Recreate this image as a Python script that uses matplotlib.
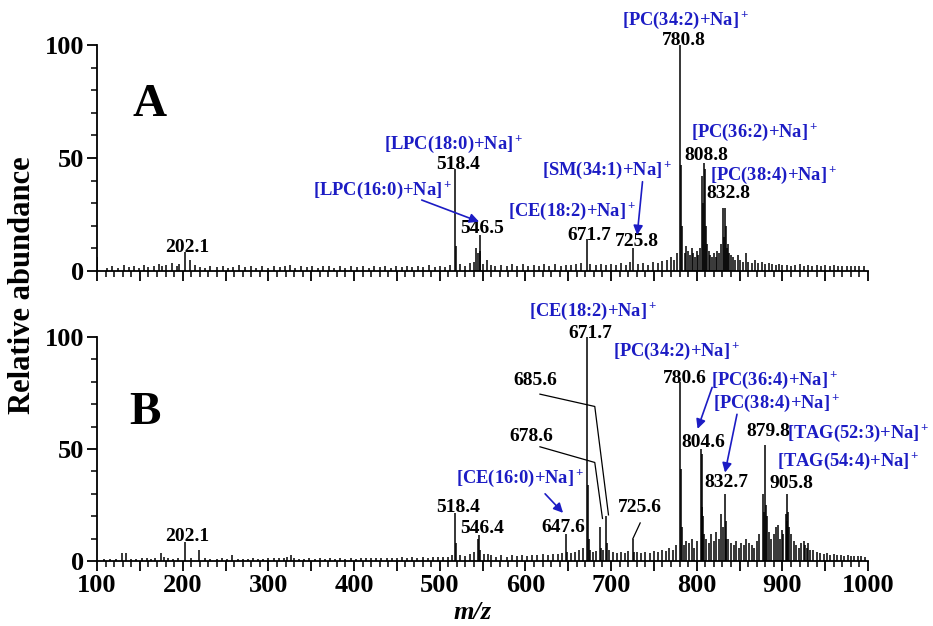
import matplotlib
matplotlib.use('Agg')
import matplotlib.pyplot as plt
from matplotlib.ticker import MultipleLocator, FuncFormatter

plt.rcParams['font.family'] = ['Liberation Serif', 'DejaVu Serif']
plt.rcParams['font.weight'] = 'bold'
plt.rcParams['mathtext.fontset'] = 'custom'
plt.rcParams['mathtext.rm'] = 'Liberation Serif:bold'
plt.rcParams['mathtext.bf'] = 'Liberation Serif:bold'
plt.rcParams['mathtext.it'] = 'Liberation Serif:bold:italic'

BLUE = '#1c1cc4'

# ---------------- Panel A data ----------------
peaks_a_mz = [100.5, 202.1, 209.0, 518.4, 519.4, 540.5, 542.5, 544.5, 546.5, 547.5, 555.5,
              671.7, 725.8, 780.8, 781.8, 782.8, 806.6, 807.6, 808.8, 809.8, 810.8,
              830.6, 831.7, 832.8, 833.8, 834.8]
peaks_a_int = [6, 8.5, 5, 45, 11, 4, 10, 8, 16, 9, 5,
               14, 10, 100, 47, 20, 42, 30, 48, 45, 20,
               28, 15, 28, 20, 10]
noise_a_mz = [112, 118, 124, 131, 137, 143, 149, 155, 160, 166, 172, 176, 181, 187, 193, 196,
              214, 220, 226, 232, 240, 247, 253, 259, 266, 273, 280, 286, 292, 299, 306, 313,
              319, 325, 331, 338, 345, 351, 358, 364, 371, 377, 384, 390, 397, 404, 410, 417,
              423, 430, 436, 443, 449, 456, 462, 468, 475, 481, 488, 494, 500, 506, 512, 524,
              530, 535, 551, 560, 565, 571, 578, 584, 590, 597, 603, 610, 616, 622, 628, 635,
              641, 647, 653, 659, 665, 676, 682, 688, 694, 700, 706, 712, 718, 722, 731, 737,
              743, 749, 755, 760, 765, 770, 774, 777, 786, 788, 790, 792, 794, 796, 798, 800,
              802, 804, 812, 814, 816, 818, 820, 822, 824, 826, 828, 836, 838, 840, 842, 845,
              848, 851, 854, 857, 860, 864, 868, 872, 876, 880, 884, 888, 892, 896, 900, 905,
              910, 915, 920, 925, 930, 935, 940, 945, 950, 955, 960, 965, 970, 975, 980, 985,
              990, 995]
noise_a_int = [1.5, 2, 1.2, 2.5, 1.8, 2.2, 1.5, 2.8, 1.6, 2.4, 3, 2, 2.5, 3.5, 2.2, 3,
               2.5, 1.8, 1.5, 2, 1.6, 2.3, 1.5, 1.8, 2.5, 1.6, 2, 1.4, 2.2, 1.5, 2.4, 1.7,
               2, 2.6, 1.5, 2, 1.6, 2.2, 1.5, 2, 2.3, 1.5, 2, 1.4, 2.1, 1.6, 2, 1.5,
               2.4, 1.6, 2, 1.5, 2.2, 1.6, 2.4, 1.7, 2, 1.6, 2.5, 1.8, 2.4, 1.8, 2.6, 3,
               2.2, 3.5, 3, 2.5, 2, 2.6, 2, 3, 2.2, 3, 2, 2.6, 2.2, 3, 2.4, 3,
               2.2, 2.8, 2.5, 3, 3.5, 3, 2.6, 3.2, 2.5, 3, 2.6, 3.4, 2.8, 4, 3, 3.5,
               2.8, 4, 3.5, 4.5, 5, 6, 5, 8, 8, 11, 9, 7, 10, 8, 6, 9,
               7, 10, 12, 9, 7, 6, 8, 6, 9, 8, 12, 12, 8, 7, 6, 5,
               7, 5, 4, 8, 4, 3.5, 5, 3.5, 4, 3, 3.5, 3, 2.6, 3, 2.6, 2.8,
               2.4, 2.6, 3, 2.4, 2.8, 2.2, 2.6, 2.2, 2.6, 2.2, 2.5, 2.1, 2.4, 2.1, 2.4, 2,
               2.3, 2]

# ---------------- Panel B data ----------------
peaks_b_mz = [129, 134, 175, 202.1, 219, 258, 326, 518.4, 519.4, 540.5, 544.4, 546.4, 547.4, 556,
              647.6, 648.6, 671.7, 672.7, 673.7, 679, 687, 688, 694, 695, 725.6, 726.6,
              780.6, 781.6, 782.6, 804.6, 805.6, 806.6, 807.6, 808.6, 828.7, 830.7, 832.7,
              833.7, 834.7, 877.8, 878.8, 879.8, 880.8, 881.8, 895, 897, 903.8, 904.8,
              905.8, 906.8, 907.8, 925, 930]
peaks_b_int = [3.5, 3.5, 3.5, 8.5, 5, 2.5, 2.5, 21.5, 8, 4, 10, 11.5, 5, 3,
               12, 4, 100, 34, 10, 4, 15, 6, 20, 8, 10, 4,
               80, 41, 15, 50, 24, 48, 20, 12, 21, 15, 30,
               18, 10, 30, 22, 52, 25, 20, 16, 10, 21, 18,
               30, 22, 15, 9, 8]
noise_b_mz = [108, 115, 122, 140, 146, 152, 158, 163, 168, 178, 183, 189, 195, 210, 226, 232,
              240, 246, 252, 264, 270, 276, 282, 288, 294, 300, 306, 312, 318, 322, 330, 336,
              342, 348, 354, 360, 366, 372, 378, 384, 390, 396, 402, 408, 414, 420, 426, 432,
              438, 444, 450, 456, 462, 468, 474, 480, 486, 492, 498, 504, 510, 514, 524, 530,
              535, 552, 560, 566, 572, 578, 584, 590, 596, 602, 608, 614, 620, 626, 632, 638,
              643, 653, 658, 663, 667, 676, 682, 691, 698, 702, 707, 712, 716, 720, 730, 735,
              740, 745, 750, 755, 760, 764, 768, 772, 776, 785, 788, 791, 794, 797, 800, 811,
              814, 817, 820, 823, 826, 837, 840, 843, 846, 849, 852, 855, 858, 861, 864, 867,
              870, 873, 884, 887, 890, 892, 899, 901, 910, 913, 916, 919, 922, 926, 929, 932,
              936, 940, 944, 948, 952, 956, 960, 964, 968, 972, 976, 980, 984, 988, 992, 996]
noise_b_int = [0.8, 1, 0.8, 1, 0.8, 1.2, 1.5, 1, 1.2, 2, 1.5, 1, 1.2, 1.5, 1.2, 1,
               0.8, 1.5, 1, 1, 0.8, 1, 1.2, 0.8, 1, 1.2, 1.5, 1.2, 1.5, 2, 1.5, 1,
               0.8, 1.2, 1, 1.5, 1, 1.2, 1, 1.4, 1, 1.2, 1, 1.4, 1.2, 1.5, 1.2, 1.4,
               1.2, 1.5, 1.2, 1.6, 1.4, 1.6, 1.4, 1.8, 1.5, 1.8, 1.6, 2, 2, 2.5, 2.5, 2.2,
               3, 3, 2.5, 2, 2.5, 2, 2.6, 2.2, 2.8, 2.4, 2.8, 2.5, 3, 2.8, 3, 3.2,
               3.5, 3.5, 4, 5, 6, 5, 4.5, 5, 5, 4, 3.5, 4, 3.5, 4.5, 4, 3.5,
               4, 3.5, 4.5, 4, 5, 4.5, 6, 5, 7, 7, 9, 8, 10, 6, 9, 10,
               8, 12, 9, 13, 10, 10, 8, 7, 9, 6, 8, 7, 10, 8, 7, 6,
               9, 12, 13, 10, 12, 15, 14, 12, 12, 9, 7, 6, 8, 7, 6, 5,
               5, 4, 3.5, 3, 3.5, 2.8, 3, 2.5, 2.6, 2.2, 2.5, 2.2, 2.4, 2.2, 2.4, 2]

# ---------------- Labels ----------------
# (text, m/z, relative abundance)
num_labels_a = [("202.1", 205, 10.2), ("518.4", 521.6, 47.3), ("546.5", 549.7, 18.9),
                ("671.7", 674.9, 15.9), ("725.8", 730, 13.0), ("780.8", 784.6, 101.9),
                ("808.8", 811.4, 51.3), ("832.8", 837, 34.4)]
ion_labels_a = [("[LPC(18:0)+Na]$^+$", 516, 56.2), ("[LPC(16:0)+Na]$^+$", 434, 35.8),
                ("[CE(18:2)+Na]$^+$", 654, 26.2), ("[SM(34:1)+Na]$^+$", 695, 44.7),
                ("[PC(34:2)+Na]$^+$", 786.5, 111.0), ("[PC(36:2)+Na]$^+$", 867, 61.2),
                ("[PC(38:4)+Na]$^+$", 890.3, 42.5)]
arrows_a = [((479, 31.4), (546, 21.8)), ((736.7, 39.5), (730.5, 15.9))]

num_labels_b = [("202.1", 205, 11.0), ("518.4", 521, 23.7), ("546.4", 550, 14.3),
                ("647.6", 644, 15.0), ("671.7", 675.3, 101.8), ("685.6", 612, 80.8),
                ("678.6", 607, 55.5), ("725.6", 734, 24.0), ("780.6", 786, 81.6),
                ("804.6", 808, 53.0), ("832.7", 835, 35.0), ("879.8", 883, 58.0),
                ("905.8", 910.6, 34.7)]
ion_labels_b = [("[CE(16:0)+Na]$^+$", 594, 37.0), ("[CE(18:2)+Na]$^+$", 679, 111.6),
                ("[PC(34:2)+Na]$^+$", 777, 93.4), ("[PC(36:4)+Na]$^+$", 890.5, 80.8),
                ("[PC(38:4)+Na]$^+$", 893, 70.4)]
ion_labels_b_left = [("[TAG(52:3)+Na]$^+$", 905, 57.0), ("[TAG(54:4)+Na]$^+$", 894, 44.3)]
arrows_b = [((623, 30.0), (644, 21.5)), ((818, 77.5), (801, 59.0)), ((847, 65.5), (833, 39.5))]
leaders_b = [[(617, 74.5), (681, 69.0), (697, 20.6)],
             [(617, 51.0), (681, 44.0), (690, 19.0)],
             [(734, 17.0), (725.5, 10.0)]]

fig = plt.figure(figsize=(9.33, 6.26), dpi=100)
ax_a = fig.add_axes([0.1040, 0.5671, 0.8264, 0.3610])
ax_b = fig.add_axes([0.1040, 0.1038, 0.8264, 0.3578])


def style(ax, show_labels):
    ax.set_xlim(100, 1000)
    ax.set_ylim(0, 100)
    for s in ('top', 'right'):
        ax.spines[s].set_visible(False)
    for s in ('left', 'bottom'):
        ax.spines[s].set_linewidth(1.3)
    ax.xaxis.set_major_locator(MultipleLocator(50))
    ax.xaxis.set_minor_locator(MultipleLocator(10))
    ax.yaxis.set_major_locator(MultipleLocator(50))
    ax.yaxis.set_minor_locator(MultipleLocator(10))
    ax.tick_params(which='major', direction='out', length=7, width=1.3)
    ax.tick_params(which='minor', direction='out', length=4, width=1.1)
    ax.tick_params(axis='both', labelsize=19, pad=2)
    if show_labels:
        ax.xaxis.set_major_formatter(FuncFormatter(
            lambda v, p: f"{int(round(v))}" if int(round(v)) % 100 == 0 else ""))
    else:
        ax.xaxis.set_major_formatter(FuncFormatter(lambda v, p: ""))
    ax.yaxis.set_major_formatter(FuncFormatter(lambda v, p: f"{int(round(v))}"))
    for lab in ax.get_xticklabels() + ax.get_yticklabels():
        lab.set_fontweight('bold')


def draw(ax, mz_lists, int_lists):
    for mz, it in zip(mz_lists, int_lists):
        ax.vlines(mz, 0, it, color='black', linewidth=1.1)


draw(ax_a, [noise_a_mz, peaks_a_mz], [noise_a_int, peaks_a_int])
draw(ax_b, [noise_b_mz, peaks_b_mz], [noise_b_int, peaks_b_int])
style(ax_a, False)
style(ax_b, True)

FS_NUM = 14
FS_ION = 13.3
for ax, nums, ions in ((ax_a, num_labels_a, ion_labels_a), (ax_b, num_labels_b, ion_labels_b)):
    for t, x, y in nums:
        ax.text(x, y, t, ha='center', va='center', fontsize=FS_NUM, color='black', fontweight='bold')
    for t, x, y in ions:
        ax.text(x, y, t, ha='center', va='center', fontsize=FS_ION, color=BLUE, fontweight='bold')
for t, x, y in ion_labels_b_left:
    ax_b.text(x, y, t, ha='left', va='center', fontsize=FS_ION, color=BLUE, fontweight='bold')

for ax, arrows in ((ax_a, arrows_a), (ax_b, arrows_b)):
    for start, end in arrows:
        ax.annotate('', xy=end, xytext=start,
                    arrowprops=dict(arrowstyle='-|>', color=BLUE, lw=1.2,
                                    mutation_scale=14, shrinkA=0, shrinkB=0))

for pts in leaders_b:
    ax_b.plot([p[0] for p in pts], [p[1] for p in pts], color='black', lw=0.9)

ax_a.text(161.8, 73.5, "A", ha='center', va='center', fontsize=34, fontweight='bold')
ax_b.text(156, 66, "B", ha='center', va='center', fontsize=34, fontweight='bold')

fig.text(0.024, 0.545, "Relative abundance", rotation=90, ha='center', va='center',
         fontsize=22, fontweight='bold')
fig.text(0.507, 0.022, "m/z", ha='center', va='center', fontsize=19,
         fontweight='bold', style='italic')

fig.savefig('out.png', dpi=100)
